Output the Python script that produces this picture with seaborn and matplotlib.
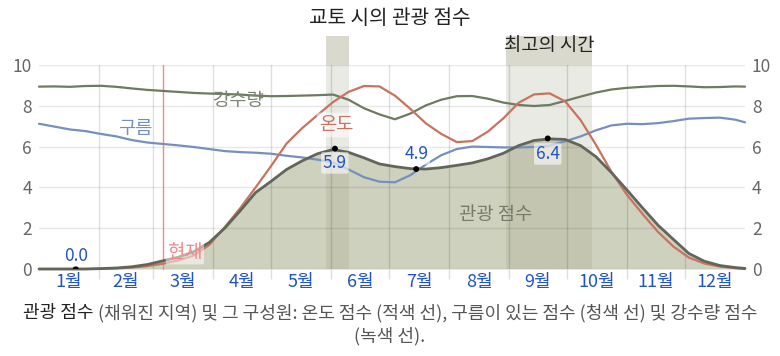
import matplotlib
matplotlib.use("Agg")
import matplotlib.pyplot as plt
from matplotlib.patches import Rectangle
import numpy as np
import seaborn as sns

MONTHS = ["1월", "2월", "3월", "4월", "5월", "6월",
          "7월", "8월", "9월", "10월", "11월", "12월"]
MONTH_DAYS = [31, 28, 31, 30, 31, 30, 31, 31, 30, 31, 30, 31]

DAYS = list(range(0, 361, 8)) + [365]

PRECIP = [8.94, 8.95, 8.93, 8.97, 8.98, 8.93, 8.85, 8.78, 8.73, 8.68,
          8.63, 8.60, 8.58, 8.55, 8.50, 8.47, 8.48, 8.50, 8.52, 8.55,
          8.30, 7.88, 7.58, 7.34, 7.62, 8.02, 8.30, 8.47, 8.48, 8.35,
          8.16, 8.04, 7.99, 8.04, 8.24, 8.45, 8.65, 8.80, 8.88, 8.93,
          8.97, 8.98, 8.95, 8.91, 8.92, 8.95, 8.94]
CLOUDS = [7.12, 6.98, 6.84, 6.76, 6.62, 6.50, 6.32, 6.20, 6.13, 6.06,
          5.98, 5.88, 5.78, 5.73, 5.70, 5.65, 5.55, 5.47, 5.36, 5.22,
          4.88, 4.50, 4.28, 4.25, 4.60, 5.12, 5.58, 5.88, 6.00, 5.98,
          5.96, 5.96, 5.98, 6.05, 6.26, 6.50, 6.80, 7.04, 7.12, 7.10,
          7.15, 7.25, 7.37, 7.40, 7.42, 7.32, 7.19]
TEMP = [0.00, 0.00, 0.00, 0.00, 0.01, 0.03, 0.07, 0.14, 0.26, 0.42,
        0.66, 1.18, 2.05, 2.98, 4.00, 5.05, 6.15, 6.90, 7.55, 8.18,
        8.68, 8.97, 8.95, 8.50, 7.85, 7.14, 6.62, 6.22, 6.27, 6.73,
        7.38, 8.15, 8.56, 8.61, 8.22, 7.30, 6.08, 4.75, 3.63, 2.70,
        1.82, 1.10, 0.56, 0.27, 0.12, 0.04, 0.00]
TOURISM = [0.00, 0.00, 0.00, 0.00, 0.02, 0.05, 0.11, 0.22, 0.40, 0.58,
           0.85, 1.30, 2.00, 2.85, 3.75, 4.30, 4.88, 5.30, 5.65, 5.86,
           5.72, 5.45, 5.15, 5.02, 4.92, 4.90, 4.97, 5.08, 5.20, 5.40,
           5.67, 6.05, 6.30, 6.38, 6.35, 6.05, 5.50, 4.72, 3.87, 3.00,
           2.15, 1.45, 0.76, 0.38, 0.17, 0.07, 0.03]

MARKER_DAYS = [19, 153, 195, 263]
MARKER_VALUES = [0.0, 5.9, 4.9, 6.4]

PEAK_BAND = (148.4, 160.3)
BEST_BAND = (241.5, 285.9)
NOW_DAY = 64

sns.set_theme(style="white")
plt.rcParams["font.family"] = ["Noto Sans CJK KR", "DejaVu Sans"]

W, H = 780, 356
fig = plt.figure(figsize=(W / 100, H / 100), dpi=100)
ax = fig.add_axes([39 / W, 1 - 269 / H, 706 / W, 204 / H])

c_precip = "#6e7a62"
c_cloud = "#7590bd"
c_temp = "#c8735f"
c_tour = "#62665a"
c_fill = "#cfd1bf"
c_blue = "#2155c0"

ax.fill_between(DAYS, TOURISM, color=c_fill, lw=0, zorder=1)

for a, b in (PEAK_BAND, BEST_BAND):
    ax.axvspan(a, b, color=(0.6, 0.6, 0.47), alpha=0.2, lw=0, zorder=1.2)
    top = Rectangle((a, 1.0), b - a, 29 / 204, color="#d9d9cd", lw=0,
                    transform=ax.get_xaxis_transform(), clip_on=False)
    ax.add_patch(top)

ax.axvline(NOW_DAY, color="#f08a8a", lw=1.0, zorder=1.6)

sns.lineplot(x=DAYS, y=CLOUDS, ax=ax, color=c_cloud, lw=1.6, zorder=3)
sns.lineplot(x=DAYS, y=PRECIP, ax=ax, color=c_precip, lw=1.6, zorder=3)
sns.lineplot(x=DAYS, y=TEMP, ax=ax, color=c_temp, lw=1.6, zorder=3)
sns.lineplot(x=DAYS, y=TOURISM, ax=ax, color=c_tour, lw=2.0, zorder=4)
for ln in ax.lines:
    ln.set_clip_on(False)
    ln.set_solid_capstyle("round")

sns.scatterplot(x=MARKER_DAYS, y=MARKER_VALUES, ax=ax, color="black",
                s=18, edgecolor="none", zorder=5)

ax.set_xlim(0, 365)
ax.set_ylim(0, 10)
for s in ax.spines.values():
    s.set_visible(False)

bounds = np.concatenate([[0], np.cumsum(MONTH_DAYS)])
mids = bounds[:-1] + np.array(MONTH_DAYS) / 2
ax.set_xticks(mids)
ax.set_xticklabels(MONTHS, fontsize=13, color=c_blue)
ax.set_xticks(bounds[1:-1], minor=True)
ax.tick_params(axis="x", which="major", length=0, pad=3)
ax.tick_params(axis="x", which="minor", length=7, width=1, color="#dddddd",
               direction="out", bottom=True)
ax.set_yticks(range(0, 11, 2))
ax.tick_params(axis="y", length=0, labelleft=True, labelright=True,
               labelsize=12.5, labelcolor="#666666", pad=5)

ax.set_axisbelow("line")
ax.grid(axis="y", which="major", color="black", alpha=0.09, lw=1)
ax.grid(axis="x", which="minor", color="black", alpha=0.13, lw=1)
ax.grid(axis="x", which="major", visible=False)

# series labels
ax.text(50, 6.9, "구름", color=c_cloud, fontsize=13.5, ha="center", va="center", zorder=6)
ax.text(103, 8.28, "강수량", color="#7a8570", fontsize=13.5, ha="center", va="center", zorder=6)
ax.text(153.5, 7.06, "온도", color=c_temp, fontsize=13.5, ha="center", va="center", zorder=6,
        bbox=dict(boxstyle="round,pad=0.1", fc="white", ec="none", alpha=0.5))
ax.text(236, 2.65, "관광 점수", color="#77796a", fontsize=13.5, ha="center", va="center", zorder=6)
ax.text(66.5, 0.83, "현재", color="#f08a8a", fontsize=13.5, ha="left", va="center", zorder=6,
        bbox=dict(boxstyle="round,pad=0.1", fc="white", ec="none", alpha=0.5))

label_pos = [(19, 0.64), (153, 5.2), (195, 5.64), (263, 5.64)]
for (lx, ly), v in zip(label_pos, MARKER_VALUES):
    ax.text(lx, ly, f"{v:.1f}", color=c_blue, fontsize=12.5, ha="center", va="center",
            zorder=6, bbox=dict(boxstyle="round,pad=0.1", fc="white", ec="none", alpha=0.6))

ax.text(sum(BEST_BAND) / 2, 1 + 19 / 204, "최고의 시간", color="#222222", fontsize=13.5,
        ha="center", va="center", transform=ax.get_xaxis_transform())

fig.text(0.5, 1 - 18 / H, "교토 시의 관광 점수", ha="center", va="center",
         fontsize=14.5, color="#222222")

# caption, two colours on the first line
y1 = 1 - 313 / H
t1 = fig.text(0, y1, "관광 점수", ha="left", va="center", fontsize=13,
              color="#222222", style="italic")
t2 = fig.text(0, y1, " (채워진 지역) 및 그 구성원: 온도 점수 (적색 선), 구름이 있는 점수 (청색 선) 및 강수량 점수",
              ha="left", va="center", fontsize=13, color="#555555", style="italic")
r = fig.canvas.get_renderer()
w1 = t1.get_window_extent(r).width
w2 = t2.get_window_extent(r).width
x0 = (W - w1 - w2) / 2
t1.set_x(x0 / W)
t2.set_x((x0 + w1) / W)
fig.text(0.5, 1 - 336 / H, "(녹색 선).", ha="center", va="center", fontsize=13,
         color="#555555", style="italic")

fig.savefig("out.png", dpi=100)
